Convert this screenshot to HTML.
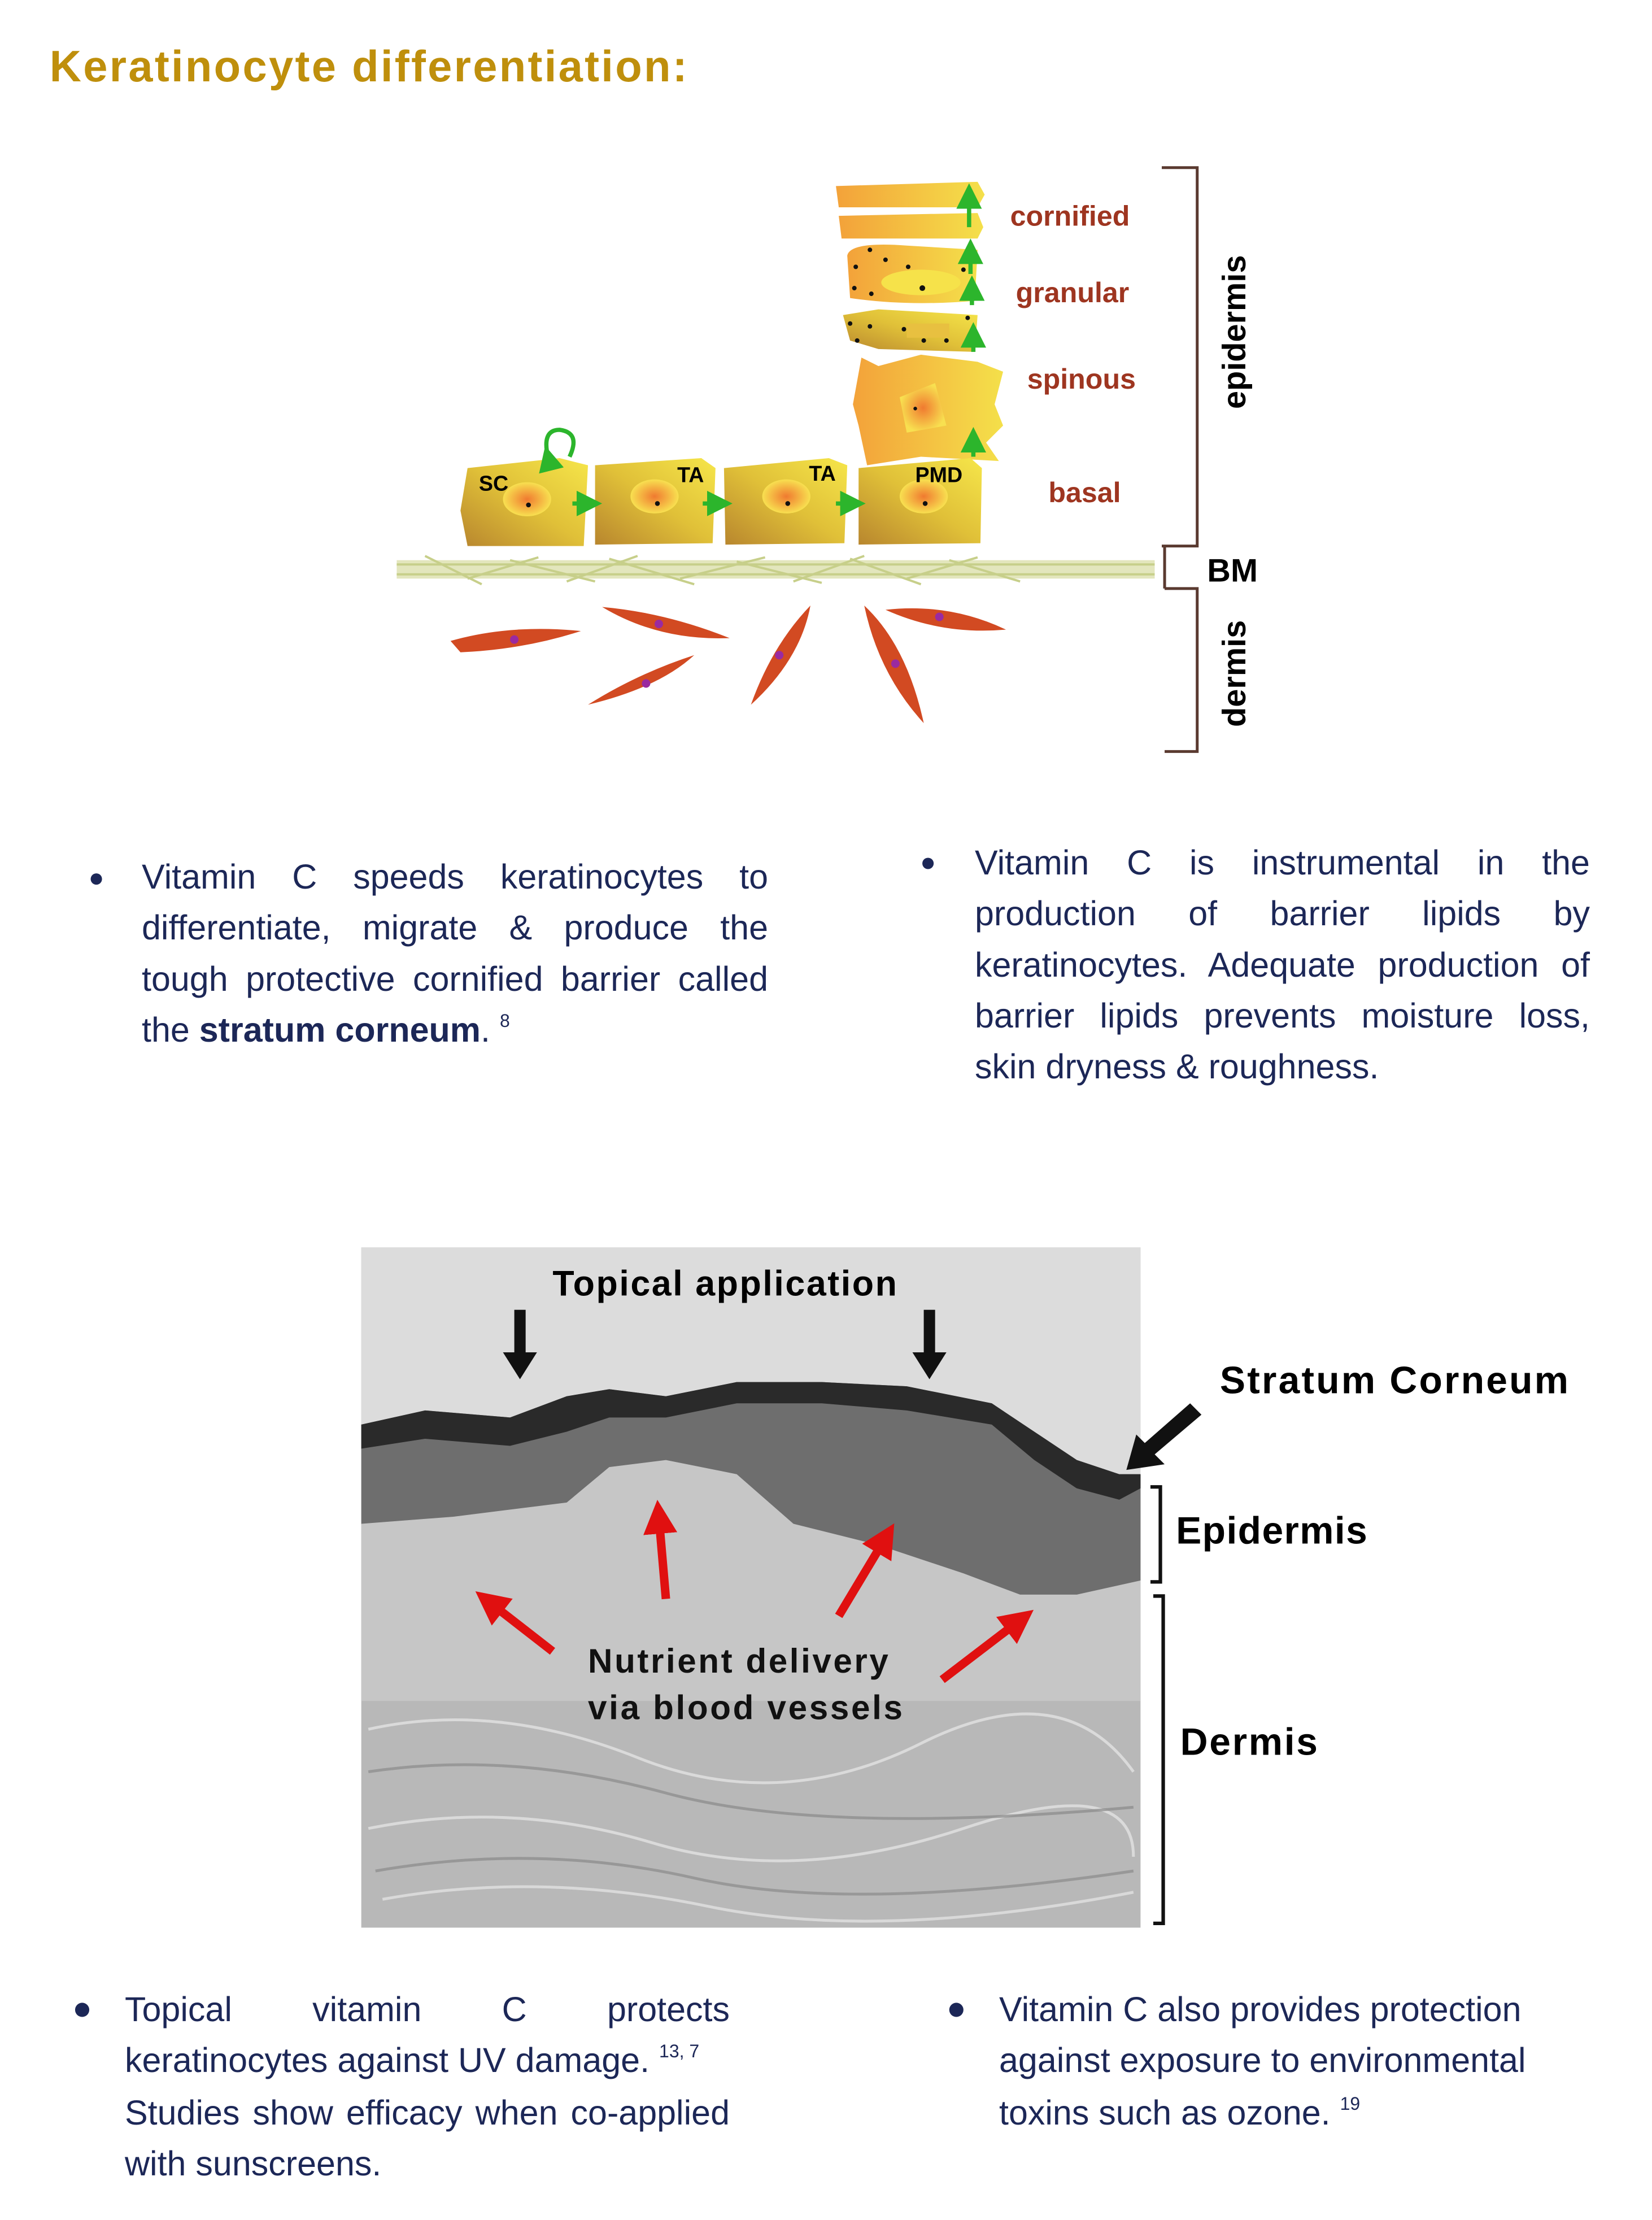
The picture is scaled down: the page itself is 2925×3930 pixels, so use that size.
<!DOCTYPE html>
<html><head><meta charset="utf-8"><style>
html,body{margin:0;padding:0;background:#fff;}
body{position:relative;width:2925px;height:3930px;overflow:hidden;}
svg{display:block;position:absolute;left:0;top:0;}
.l{position:absolute;font-family:"Liberation Sans",sans-serif;color:#1c2757;font-size:61px;line-height:59px;height:59px;white-space:nowrap;}
.j{text-align:justify;text-align-last:justify;}
.l sup{font-size:32px;vertical-align:26px;line-height:0;}
.lab{font-family:"Liberation Sans",sans-serif;font-weight:bold;fill:#9e3520;font-size:20px;}
.blk{font-family:"Liberation Sans",sans-serif;font-weight:bold;fill:#000;}
</style></head><body>
<svg width="2925" height="3930" viewBox="0 0 1166 1566" xmlns="http://www.w3.org/2000/svg">
<defs>
<linearGradient id="cell" x1="0" y1="1" x2="1" y2="0">
<stop offset="0" stop-color="#b8862e"/><stop offset="0.5" stop-color="#e0c038"/><stop offset="1" stop-color="#f6e64a"/></linearGradient>
<linearGradient id="up" x1="0" y1="0" x2="1" y2="0">
<stop offset="0" stop-color="#f3a23a"/><stop offset="1" stop-color="#f4e04a"/></linearGradient>
<radialGradient id="nuc"><stop offset="0" stop-color="#f07a30"/><stop offset="1" stop-color="#f8e050"/></radialGradient>
<marker id="ga" markerWidth="6" markerHeight="6" refX="3" refY="3" orient="auto"><path d="M0,0 L6,3 L0,6Z" fill="#2cb52c"/></marker>
<marker id="ra" markerWidth="4" markerHeight="4" refX="2" refY="2" orient="auto"><path d="M0,0 L4,2 L0,4Z" fill="#e01010"/></marker>
</defs>
<text x="35" y="57" font-family="Liberation Sans,sans-serif" font-weight="bold" font-size="31" fill="#bf8f0c" textLength="450">Keratinocyte differentiation:</text>

<g>
<path d="M590,131 L690,128 L695,137 L690,146 L592,146 Z" fill="url(#up)"/>
<path d="M592,152 L690,150 L694,160 L690,168 L594,168 Z" fill="url(#up)"/>
<path d="M598,180 Q600,170 640,173 L690,176 L688,212 Q640,216 600,210 Z" fill="url(#up)"/>
<ellipse cx="650" cy="199" rx="28" ry="9" fill="#f6e24a"/>
<path d="M595,222 L620,218 L690,222 L688,248 L620,246 L600,240 Z" fill="url(#cell)"/>
<rect x="640" y="228" width="30" height="10" fill="#e8c040"/>
<path d="M608,252 L620,258 L650,250 L690,255 L708,262 L702,285 L708,300 L696,312 L705,325 L650,322 L612,328 L606,300 L602,285 Z" fill="url(#up)"/>
<path d="M635,280 L660,270 L668,300 L640,305 Z" fill="url(#nuc)"/>
<g fill="#111">
<circle cx="604" cy="188" r="1.6"/><circle cx="614" cy="176" r="1.6"/><circle cx="625" cy="183" r="1.6"/><circle cx="641" cy="188" r="1.6"/><circle cx="680" cy="190" r="1.6"/><circle cx="603" cy="203" r="1.6"/><circle cx="615" cy="207" r="1.6"/><circle cx="690" cy="210" r="1.6"/><circle cx="683" cy="176" r="1.6"/>
<circle cx="600" cy="228" r="1.6"/><circle cx="614" cy="230" r="1.6"/><circle cx="638" cy="232" r="1.6"/><circle cx="652" cy="240" r="1.6"/><circle cx="668" cy="240" r="1.6"/><circle cx="683" cy="224" r="1.6"/><circle cx="605" cy="240" r="1.6"/><circle cx="651" cy="203" r="2"/><circle cx="646" cy="288" r="1.3"/>
</g>
<g>
<path d="M330,330 L395,323 L415,328 L412,385 L330,385 L325,360 Z" fill="url(#cell)"/>
<path d="M420,328 L495,323 L505,330 L503,383 L420,384 Z" fill="url(#cell)"/>
<path d="M511,330 L585,323 L598,328 L596,383 L512,384 Z" fill="url(#cell)"/>
<path d="M606,330 L685,323 L693,330 L692,383 L606,384 Z" fill="url(#cell)"/>
<ellipse cx="372" cy="352" rx="17" ry="12" fill="url(#nuc)"/>
<ellipse cx="462" cy="350" rx="17" ry="12" fill="url(#nuc)"/>
<ellipse cx="555" cy="350" rx="17" ry="12" fill="url(#nuc)"/>
<ellipse cx="652" cy="350" rx="17" ry="12" fill="url(#nuc)"/>
<g fill="#111"><circle cx="373" cy="356" r="1.7"/><circle cx="464" cy="355" r="1.7"/><circle cx="556" cy="355" r="1.7"/><circle cx="653" cy="355" r="1.7"/></g>
</g>
<g stroke="#2cb52c" stroke-width="3" fill="none">
<path d="M404,355 L416,355" marker-end="url(#ga)"/>
<path d="M496,355 L508,355" marker-end="url(#ga)"/>
<path d="M590,355 L602,355" marker-end="url(#ga)"/>
<path d="M387,323 Q382,303 395,303 Q410,305 402,322" marker-start="url(#ga)"/>
<path d="M687,322 L687,310" marker-end="url(#ga)"/>
<path d="M687,248 L687,236" marker-end="url(#ga)"/>
<path d="M686,215 L686,203" marker-end="url(#ga)"/>
<path d="M685,193 L685,177" marker-end="url(#ga)"/>
<path d="M684,160 L684,138" marker-end="url(#ga)"/>
</g>
<text x="338" y="346" class="blk" font-size="15">SC</text>
<text x="478" y="340" class="blk" font-size="15">TA</text>
<text x="571" y="339" class="blk" font-size="15">TA</text>
<text x="646" y="340" class="blk" font-size="15">PMD</text>
<rect x="280" y="395" width="535" height="13" fill="#e3e6bd"/>
<g stroke="#c7cf8a" stroke-width="1.6">
<path d="M280,398 L815,398 M280,405 L815,405"/>
<path d="M300,392 L340,412 M330,408 L380,393 M360,395 L420,410 M400,410 L450,392 M430,394 L490,412 M480,408 L540,393 M520,396 L580,411 M560,410 L610,392 M600,394 L650,412 M640,408 L690,393 M670,395 L720,410"/>
</g>
<g fill="#d24a22">
<path d="M318,452 Q360,440 410,445 Q370,458 325,460 Z"/>
<path d="M425,428 Q470,432 515,450 Q465,452 425,428 Z"/>
<path d="M415,497 Q450,475 490,462 Q465,485 415,497 Z"/>
<path d="M530,497 Q545,455 572,427 Q565,465 530,497 Z"/>
<path d="M610,427 Q640,455 652,510 Q620,475 610,427 Z"/>
<path d="M625,430 Q670,425 710,444 Q665,448 625,430 Z"/>
</g>
<g fill="#9a2aa0"><circle cx="363" cy="451" r="3"/><circle cx="465" cy="440" r="3"/><circle cx="456" cy="482" r="3"/><circle cx="550" cy="462" r="3"/><circle cx="632" cy="468" r="3"/><circle cx="663" cy="435" r="3"/></g>
<text x="713" y="159" class="lab">cornified</text>
<text x="717" y="213" class="lab">granular</text>
<text x="725" y="274" class="lab">spinous</text>
<text x="740" y="354" class="lab">basal</text>
<g stroke="#5a3a30" stroke-width="2" fill="none">
<path d="M820,118 L845,118 L845,385 L820,385 M822,385 L822,415 M822,415 L845,415 L845,530 L822,530"/>
</g>
<text transform="translate(879,234) rotate(-90)" class="blk" font-size="23" text-anchor="middle">epidermis</text>
<text x="852" y="410" class="blk" font-size="23">BM</text>
<text transform="translate(879,475) rotate(-90)" class="blk" font-size="23" text-anchor="middle">dermis</text>
</g>

<circle cx="68" cy="620" r="4" fill="#1c2757"/>
<circle cx="655" cy="609" r="4" fill="#1c2757"/>

<rect x="255" y="880" width="550" height="480" fill="#b8b8b8"/>
<path d="M255,880 L805,880 L805,1040 L790,1040 L760,1030 L730,1010 L700,990 L640,978 L580,975 L520,975 L470,985 L430,980 L400,985 L360,1000 L300,995 L255,1005 Z" fill="#dcdcdc"/>
<path d="M255,1075 L320,1070 L400,1060 L430,1035 L470,1030 L520,1040 L560,1075 L620,1090 L680,1110 L720,1125 L760,1125 L805,1115 L805,1200 L255,1200 Z" fill="#c6c6c6"/>
<path d="M255,1005 L300,995 L360,1000 L400,985 L430,980 L470,985 L520,975 L580,975 L640,978 L700,990 L730,1010 L760,1030 L790,1040 L805,1040 L805,1115 L760,1125 L720,1125 L680,1110 L620,1090 L560,1075 L520,1040 L470,1030 L430,1035 L400,1060 L320,1070 L255,1075 Z" fill="#6e6e6e"/>
<path d="M255,1005 L300,995 L360,1000 L400,985 L430,980 L470,985 L520,975 L580,975 L640,978 L700,990 L730,1010 L760,1030 L790,1040 L805,1040 L805,1050 L790,1058 L760,1050 L730,1030 L700,1005 L640,995 L580,990 L520,990 L470,1000 L430,1000 L400,1010 L360,1020 L300,1015 L255,1022 Z" fill="#2a2a2a"/>
<g stroke="#e8e8e8" stroke-width="2" fill="none" opacity="0.7">
<path d="M260,1220 Q350,1200 450,1240 T650,1230 T800,1250"/><path d="M260,1290 Q360,1270 460,1300 T680,1290 T800,1310"/><path d="M270,1340 Q380,1320 500,1345 T800,1335"/>
</g>
<g stroke="#8a8a8a" stroke-width="2" fill="none" opacity="0.7">
<path d="M260,1250 Q360,1235 470,1265 T800,1275"/><path d="M265,1320 Q380,1300 490,1325 T800,1320"/>
</g>
<text x="390" y="914" class="blk" font-size="25" textLength="243">Topical application</text>
<g fill="#111"><rect x="363" y="924" width="8" height="32"/><path d="M355,954 L379,954 L367,973Z"/>
<rect x="652" y="924" width="8" height="32"/><path d="M644,954 L668,954 L656,973Z"/>
<path d="M840,990 L848,998 L815,1026 L822,1033 L795,1037 L802,1012 L808,1018 Z"/></g>
<g stroke="#e01010" stroke-width="6" fill="none">
<path d="M390,1165 L345,1130" marker-end="url(#ra)"/>
<path d="M470,1128 L465,1070" marker-end="url(#ra)"/>
<path d="M592,1140 L625,1085" marker-end="url(#ra)"/>
<path d="M665,1185 L720,1143" marker-end="url(#ra)"/>
</g>
<text x="415" y="1180" font-family="Liberation Sans,sans-serif" font-weight="bold" font-size="24" fill="#111" textLength="212">Nutrient delivery</text>
<text x="415" y="1213" font-family="Liberation Sans,sans-serif" font-weight="bold" font-size="24" fill="#111" textLength="222">via blood vessels</text>
<text x="861" y="983" class="blk" font-size="27" textLength="246">Stratum Corneum</text>
<text x="830" y="1089" class="blk" font-size="27" textLength="135">Epidermis</text>
<text x="833" y="1238" class="blk" font-size="27" textLength="97">Dermis</text>
<g stroke="#111" stroke-width="2.5" fill="none">
<path d="M812,1049 L819,1049 L819,1116 L812,1116"/>
<path d="M814,1126 L821,1126 L821,1357 L814,1357"/>
</g>

<circle cx="58" cy="1418" r="5" fill="#1c2757"/>
<circle cx="675" cy="1418" r="5" fill="#1c2757"/>
</svg>

<div class="l j" style="left:251px;top:1523px;width:1109px">Vitamin C speeds keratinocytes to</div>
<div class="l j" style="left:251px;top:1613px;width:1109px">differentiate, migrate &amp; produce the</div>
<div class="l j" style="left:251px;top:1704px;width:1109px">tough protective cornified barrier called</div>
<div class="l" style="left:251px;top:1794px;">the <b>stratum corneum</b>. <sup>8</sup></div>

<div class="l j" style="left:1726px;top:1498px;width:1089px">Vitamin C is instrumental in the</div>
<div class="l j" style="left:1726px;top:1588px;width:1089px">production of barrier lipids by</div>
<div class="l j" style="left:1726px;top:1679px;width:1089px">keratinocytes. Adequate production of</div>
<div class="l j" style="left:1726px;top:1769px;width:1089px">barrier lipids prevents moisture loss,</div>
<div class="l" style="left:1726px;top:1859px;">skin dryness &amp; roughness.</div>

<div class="l j" style="left:221px;top:3528px;width:1071px">Topical vitamin C protects</div>
<div class="l" style="left:221px;top:3618px;">keratinocytes against UV damage. <sup>13, 7</sup></div>
<div class="l j" style="left:221px;top:3711px;width:1071px">Studies show efficacy when co-applied</div>
<div class="l" style="left:221px;top:3801px;">with sunscreens.</div>

<div class="l" style="left:1769px;top:3528px;">Vitamin C also provides protection</div>
<div class="l" style="left:1769px;top:3618px;">against exposure to environmental</div>
<div class="l" style="left:1769px;top:3711px;">toxins such as ozone. <sup>19</sup></div>
</body></html>
